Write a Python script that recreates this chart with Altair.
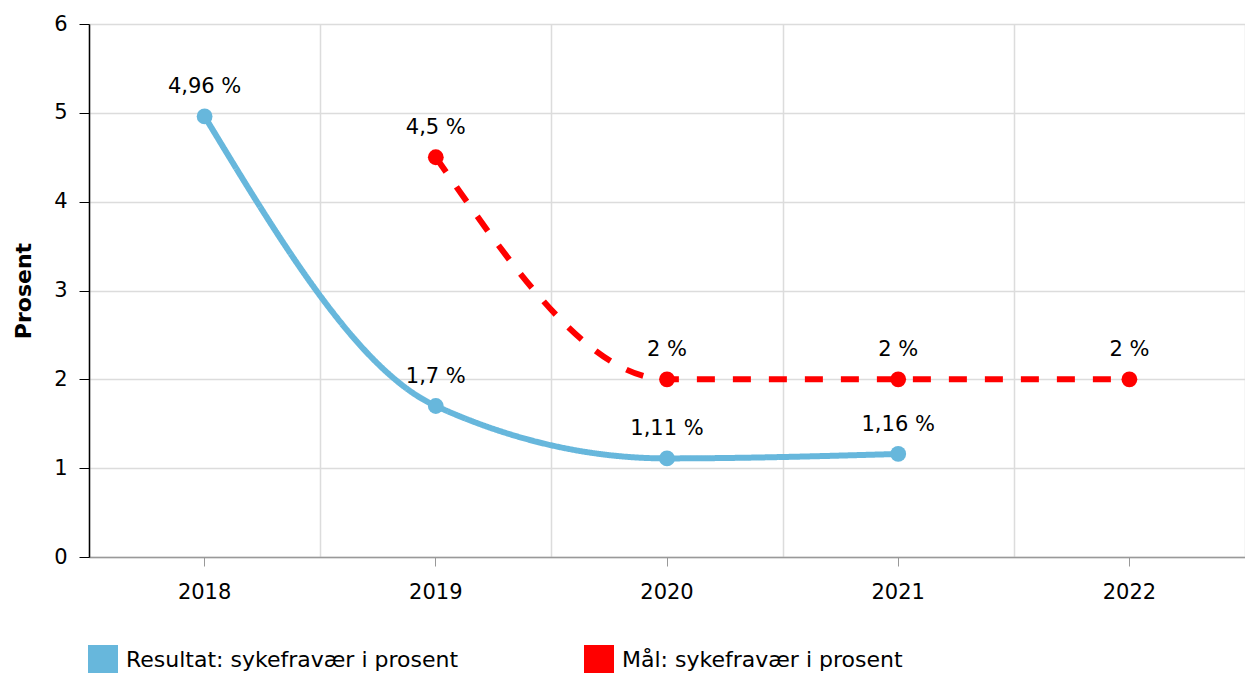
import altair as alt
import pandas as pd

years = ["2018", "2019", "2020", "2021", "2022"]
result_values = [4.96, 1.7, 1.11, 1.16, None]
target_values = [None, 4.5, 2, 2, 2]
series_names = ["Resultat: sykefravær i prosent", "Mål: sykefravær i prosent"]
series_colors = ["#67b7dc", "#ff0000"]
series_dash = [[1, 0], [18, 18]]
y_ticks = [0, 1, 2, 3, 4, 5, 6]

rows = []
for name, vals in zip(series_names, [result_values, target_values]):
    for yr, v in zip(years, vals):
        if v is None:
            continue
        rows.append({"year": yr, "value": v, "series": name,
                     "label": f"{v:g}".replace(".", ",") + " %"})
df = pd.DataFrame(rows)

FONT = "DejaVu Sans"
xscale = alt.Scale(type="band", domain=years, paddingInner=0, paddingOuter=0)
yscale = alt.Scale(domain=[0, 6], nice=False)
color = alt.Color("series:N", scale=alt.Scale(domain=series_names, range=series_colors),
                  legend=alt.Legend(orient="none", legendX=-1, legendY=621, direction="horizontal",
                                    title=None, symbolType="square", symbolSize=900,
                                    labelFontSize=22, labelColor="black", labelFont=FONT,
                                    columnPadding=125, symbolStrokeWidth=0, symbolOpacity=1,
                                    labelOffset=8, labelLimit=500))

y_enc = alt.Y("value:Q", scale=yscale,
              axis=alt.Axis(values=y_ticks, format="d", title="Prosent", titleFontSize=22,
                            titleFontWeight="bold", titleColor="black", titleFont=FONT, titlePadding=18,
                            labelFontSize=21, labelColor="black", labelFont=FONT, labelPadding=12,
                            tickSize=10, tickColor="black", domainColor="black", domainWidth=1.5,
                            gridColor="#dcdcdc", gridWidth=1.5))

lines = alt.Chart(df).mark_line(interpolate="monotone", strokeWidth=6).encode(
    x=alt.X("year:O", scale=xscale,
            axis=alt.Axis(title=None, grid=False, labelAngle=0, labelFontSize=21, labelColor="black",
                          labelFont=FONT, labelPadding=15, tickSize=9, tickColor="#999999",
                          domainColor="#999999", domainWidth=1.5)),
    y=y_enc,
    color=color,
    strokeDash=alt.StrokeDash("series:N", scale=alt.Scale(domain=series_names, range=series_dash),
                              legend=None),
    detail="series:N",
)

points = alt.Chart(df).mark_circle(size=250, opacity=1).encode(
    x=alt.X("year:O", scale=xscale,
            axis=alt.Axis(orient="top", title=None, grid=True, tickBand="extent", labels=False,
                          ticks=False, domain=False, gridColor="#dcdcdc", gridWidth=1.5)),
    y=alt.Y("value:Q", scale=yscale),
    color=color,
)

texts = alt.Chart(df).mark_text(dy=-23, baseline="alphabetic", fontSize=21, font=FONT,
                                color="black").encode(
    x=alt.X("year:O", scale=xscale, axis=None),
    y=alt.Y("value:Q", scale=yscale),
    text="label:N",
)

chart = alt.layer(lines, points, texts).resolve_axis(x="independent").properties(
    width=1156, height=533,
    autosize=alt.AutoSizeParams(type="none"),
    padding={"left": 81, "top": 16, "right": 0, "bottom": 116},
).configure_view(stroke=None).configure(font=FONT)

chart.save("out.html", embed_options={"renderer": "svg", "actions": False})
